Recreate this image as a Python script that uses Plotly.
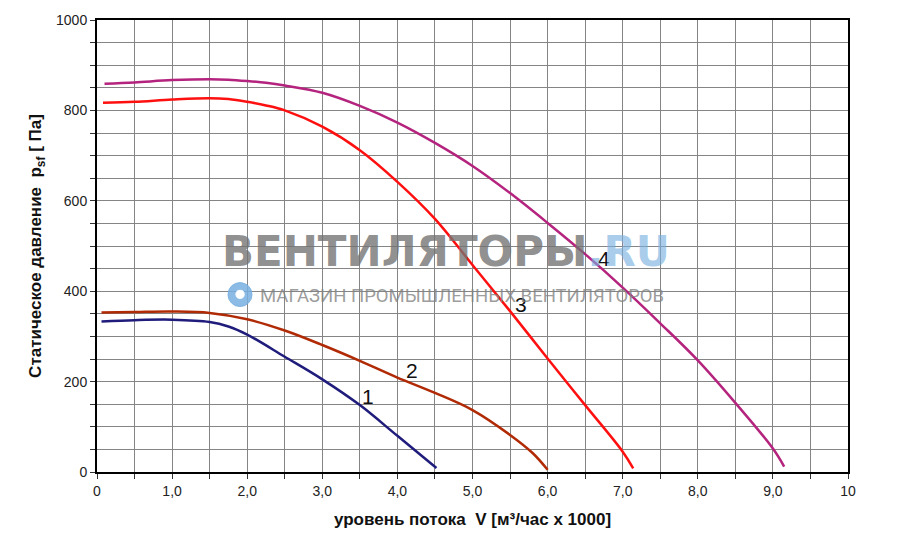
import plotly.graph_objects as go

# fan curves: flow V [m3/h x 1000] vs static pressure [Pa]
v1 = [0.06, 0.5, 1.0, 1.5, 1.75, 2.0, 2.5, 3.0, 3.5, 4.0, 4.52]
p1 = [333, 336, 337, 332, 322, 304, 255, 205, 148, 80, 9]

v2 = [0.06, 0.5, 1.0, 1.5, 2.0, 2.5, 3.0, 3.5, 4.0, 4.5, 5.0, 5.5, 5.8, 6.0]
p2 = [353, 354, 355, 352, 338, 313, 281, 246, 209, 175, 137, 82, 42, 5]

v3 = [0.08, 0.5, 1.0, 1.5, 1.75, 2.0, 2.25, 2.5, 3.0, 3.5, 4.0, 4.5, 5.0, 5.5, 6.0, 6.5, 7.0, 7.14]
p3 = [817, 819, 824, 827, 825, 819, 811, 800, 764, 712, 642, 560, 458, 356, 251, 148, 45, 8]

v4 = [0.1, 0.5, 1.0, 1.5, 1.75, 2.0, 2.25, 2.5, 3.0, 3.5, 4.0, 4.5, 5.0, 5.5, 6.0, 6.5, 7.0, 7.5, 8.0, 8.5, 9.0, 9.15]
p4 = [859, 862, 867, 869, 868, 865, 861, 855, 839, 810, 773, 728, 677, 617, 551, 482, 408, 329, 247, 153, 52, 12]

curves = [
    ("1", v1, p1, "#1f1c7c", 3.61, 168),
    ("2", v2, p2, "#b02a05", 4.19, 224),
    ("3", v3, p3, "#ff1010", 5.64, 370),
    ("4", v4, p4, "#b4247e", 6.75, 472),
]

x_ticks = [0, 1, 2, 3, 4, 5, 6, 7, 8, 9, 10]
x_labels = ["0", "1,0", "2,0", "3,0", "4,0", "5,0", "6,0", "7,0", "8,0", "9,0", "10"]
y_ticks = [0, 200, 400, 600, 800, 1000]

fig = go.Figure()

for name, vx, py, color, lx, ly in curves:
    fig.add_trace(go.Scatter(
        x=vx, y=py, mode="lines", name=name,
        line=dict(color=color, width=2.5, shape="spline", smoothing=1.0),
        hoverinfo="skip",
    ))
    fig.add_annotation(x=lx, y=ly, text=name, showarrow=False,
                       font=dict(size=21, color="#111", family="Liberation Sans"))

# watermark
fig.add_annotation(
    xref="paper", yref="paper", x=0.465, y=0.488, showarrow=False,
    text="<b>ВЕНТИЛЯТОРЫ</b><b><span style='color:rgba(120,175,225,0.8)'>.RU</span></b>",
    font=dict(size=42, color="rgba(115,115,115,0.8)", family="DejaVu Sans"),
)
fig.add_annotation(
    xref="paper", yref="paper", x=0.486, y=0.39, showarrow=False,
    text="МАГАЗИН ПРОМЫШЛЕННЫХ ВЕНТИЛЯТОРОВ",
    font=dict(size=18.5, color="rgba(130,130,130,0.8)", family="Roboto"),
)
fig.add_shape(type="circle", xref="paper", yref="paper",
              x0=0.1744, x1=0.2064, y0=0.366, y1=0.419,
              line=dict(color="rgba(120,175,225,0.85)", width=1),
              fillcolor="rgba(120,175,225,0.85)")
fig.add_shape(type="circle", xref="paper", yref="paper",
              x0=0.185, x1=0.196, y0=0.384, y1=0.402,
              line=dict(color="white", width=1), fillcolor="white")

grid = "#858585"
# page body adds an 8px offset, so margins are shifted to compensate
fig.update_layout(
    width=900, height=534,
    margin=dict(l=89, r=60, t=12, b=70),
    paper_bgcolor="white", plot_bgcolor="white",
    showlegend=False,
    font=dict(family="Liberation Sans", color="#222"),
    xaxis=dict(
        range=[0, 10], tickvals=x_ticks, ticktext=x_labels,
        showgrid=True, gridcolor=grid, gridwidth=1,
        ticks="outside", ticklen=5, tickcolor="#333",
        minor=dict(dtick=0.5, showgrid=True, gridcolor=grid, gridwidth=1,
                   ticks="outside", ticklen=5, tickcolor="#333"),
        showline=True, linecolor="black", linewidth=2, mirror=True,
        zeroline=False, tickfont=dict(size=14), automargin=False,
        title=dict(text="<b>уровень потока  V [м³/час x 1000]</b>",
                   font=dict(size=17, color="#111"), standoff=15),
    ),
    yaxis=dict(
        range=[0, 1000], tickvals=y_ticks,
        showgrid=True, gridcolor=grid, gridwidth=1,
        ticks="outside", ticklen=5, tickcolor="#333",
        minor=dict(dtick=50, showgrid=True, gridcolor=grid, gridwidth=1,
                   ticks="outside", ticklen=5, tickcolor="#333"),
        showline=True, linecolor="black", linewidth=2, mirror=True,
        zeroline=False, tickfont=dict(size=14), automargin=False,
        title=dict(text="<b>Статическое давление  p<sub>sf</sub> [ Па]</b>",
                   font=dict(size=17, color="#111"), standoff=10),
    ),
)

fig.write_html("out.html")
